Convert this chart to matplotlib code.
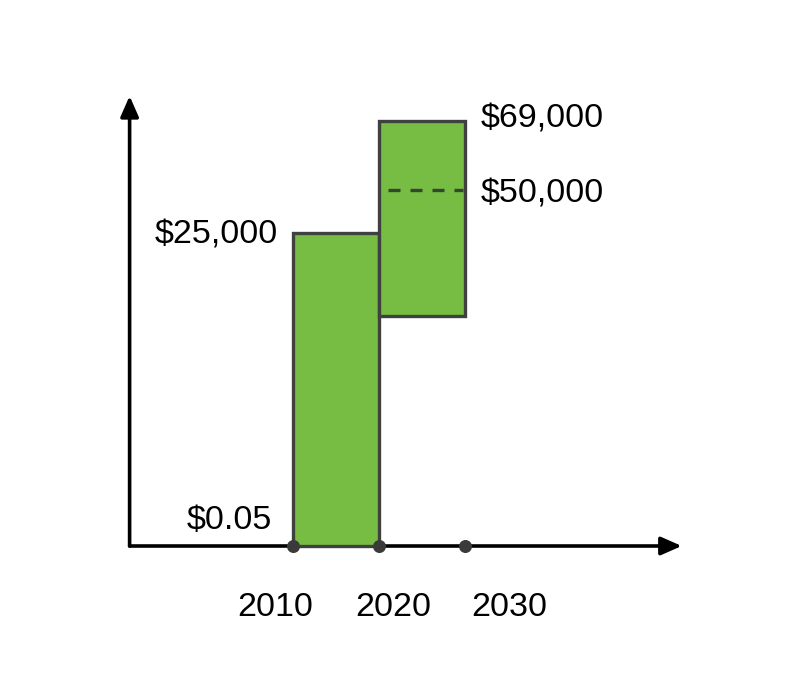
import matplotlib.pyplot as plt

plt.rcParams['font.family'] = ['Liberation Sans', 'DejaVu Sans']

# data (heights are schematic, values are the labels shown)
years = [2010, 2020, 2030]
bar_starts = [2010, 2020]
bar_bottoms = [0.0, 23.0]
bar_tops = [31.3, 42.5]
marker_level = 35.6
bar_labels = ["$0.05", "$25,000", "$50,000", "$69,000"]
year_labels = ["2010", "2020", "2030"]

green = "#77bc43"
edge = "#3f4140"

fig = plt.figure(figsize=(8, 6.79), dpi=100)
ax = fig.add_axes([0, 0, 1, 1])
ax.set_xlim(1975.93, 2068.95)
ax.set_ylim(-13.3, 54.6)
ax.axis("off")

# axes with arrows
arrow = dict(arrowstyle="-|>,head_length=1.25,head_width=0.55", color="black", lw=2.6,
             shrinkA=0, shrinkB=0)
ax.annotate("", xy=(2055.2, 0), xytext=(1991.0, 0), arrowprops=arrow)
ax.annotate("", xy=(1991.0, 45.0), xytext=(1991.0, 0), arrowprops=arrow)

# bars
heights = [t - b for t, b in zip(bar_tops, bar_bottoms)]
ax.bar(bar_starts, heights, width=10, bottom=bar_bottoms, align="edge",
       color=green, edgecolor=edge, linewidth=2.4, zorder=3)

# dashed marker inside second bar
ax.plot([2021.1, 2029.8], [marker_level, marker_level], color="#354530", lw=2.4,
        dashes=(3.6, 3.0), zorder=4)

# dots on x axis
ax.scatter(years, [0] * len(years), s=70, color="#3a3a3a", zorder=5)

# value labels
fs = 24.5
ax.text(2007.6, 2.5, bar_labels[0], ha="right", va="center", fontsize=fs)
ax.text(2008.3, bar_tops[0] - 0.2, bar_labels[1], ha="right", va="center", fontsize=fs)
ax.text(2031.8, marker_level - 0.35, bar_labels[2], ha="left", va="center", fontsize=fs)
ax.text(2031.8, bar_tops[1] + 0.2, bar_labels[3], ha="left", va="center", fontsize=fs)

# year labels
offsets = [-2.1, 1.6, 5.2]
for yr, lab, off in zip(years, year_labels, offsets):
    ax.text(yr + off, -6.1, lab, ha="center", va="center", fontsize=fs)

fig.savefig("out.png", dpi=100)
